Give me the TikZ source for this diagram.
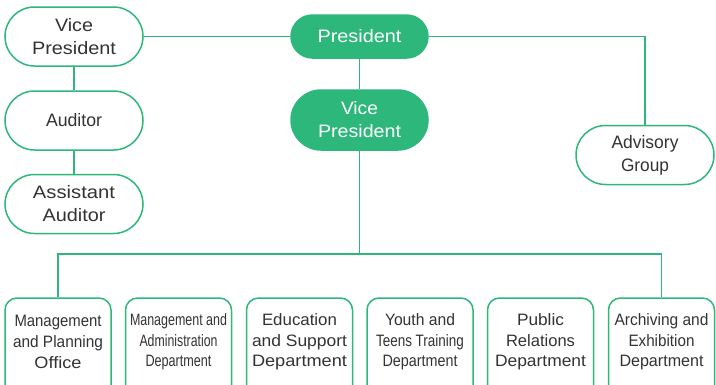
\documentclass[tikz,border=0pt]{standalone}
\usepackage{fontspec}
\setmainfont{Liberation Sans}
\usepackage{graphicx}
\definecolor{grn}{HTML}{2DB77B}
\definecolor{txt}{HTML}{333333}
\newsavebox\fitbox
\newcommand\fitw[2]{\sbox\fitbox{#2}\pgfmathsetmacro\fitsc{#1/\the\wd\fitbox}\scalebox{\fitsc}[1]{\usebox\fitbox}}
\tikzset{
  pill/.style={draw=grn, line width=1.5pt, fill=white, text=txt, minimum width=138, minimum height=59,
    rounded corners=29.5, inner sep=0, align=center, font=\fontsize{18}{23}\selectfont},
  pillg/.style={pill, fill=grn, text=white},
  dept/.style={draw=grn, line width=1.5pt, fill=white, minimum width=106, minimum height=100,
    rounded corners=12, inner sep=0},
  depttext/.style={text=txt, align=center, inner sep=0, font=\fontsize{16.5}{20.7}\selectfont},
  conn/.style={draw=grn, line width=1.5pt}
}
\begin{document}
\begin{tikzpicture}[x=1pt, y=-1pt]
\useasboundingbox (0,0) rectangle (716,384);
% top left column
\node[pill] (vpl) at (74,36.5) {\fitw{38}{Vice}\\\fitw{84}{President}};
\node[pill] (aud) at (74,120.5) {\fitw{56}{Auditor}};
\node[pill] (asa) at (74,204) {\fitw{82}{Assistant}\\\fitw{63}{Auditor}};
% centre
\node[pillg, minimum width=137, minimum height=43, rounded corners=21.5] (pres) at (359.5,36.5) {\fitw{84}{President}};
\node[pillg, minimum width=137, minimum height=60, rounded corners=30] (vp2) at (359.5,120) {\fitw{37}{Vice}\\\fitw{83}{President}};
% advisory
\node[pill] (adv) at (645,155) {\fitw{67}{Advisory}\\\fitw{48}{Group}};
% departments
\node[dept] (b1) at (58,348) {};
\node[dept] (b2) at (178.5,348) {};
\node[dept] (b3) at (299.5,348) {};
\node[dept] (b4) at (420,348) {};
\node[dept] (b5) at (540.5,348) {};
\node[dept] (b6) at (661.5,348) {};
\node[depttext] (t1) at (58,342) {\fitw{87}{Management}\\\fitw{90}{and Planning}\\\fitw{47}{Office}};
\node[depttext] (t2) at (178.5,342) {\fitw{97}{Management and}\\\fitw{78}{Administration}\\\fitw{66}{Department}};
\node[depttext] (t3) at (299.5,342) {\fitw{75}{Education}\\\fitw{95}{and Support}\\\fitw{95}{Department}};
\node[depttext] (t4) at (420,342) {\fitw{70}{Youth and}\\\fitw{88}{Teens Training}\\\fitw{75}{Department}};
\node[depttext] (t5) at (540.5,342) {\fitw{47}{Public}\\\fitw{69}{Relations}\\\fitw{91}{Department}};
\node[depttext] (t6) at (661.5,342) {\fitw{94}{Archiving and}\\\fitw{66}{Exhibition}\\\fitw{84}{Department}};
% connectors
\coordinate (bus) at (359.5,254);
\draw[conn] (vpl.east) -- (pres.west);
\draw[conn] (vpl.south) -- (aud.north);
\draw[conn] (aud.south) -- (asa.north);
\draw[conn] (pres.east) -| (adv.north);
\draw[conn] (pres.south) -- (vp2.north);
\draw[conn] (vp2.south) -- (bus);
\draw[conn] (b1.north) -- (b1.north |- bus) -- (b6.north |- bus) -- (b6.north);
\end{tikzpicture}
\end{document}
